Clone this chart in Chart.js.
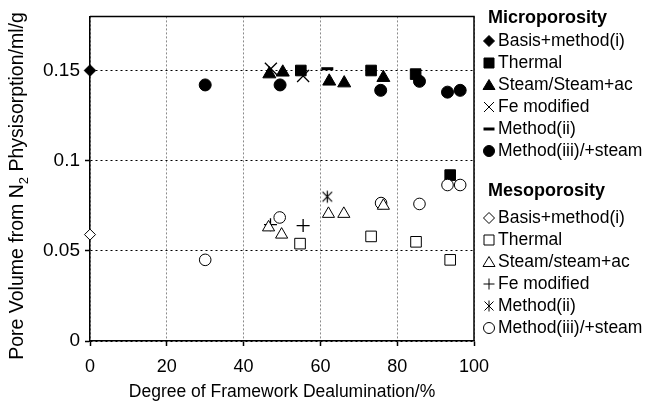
<!DOCTYPE html>
<html>
<head>
<meta charset="utf-8">
<script src="https://cdn.jsdelivr.net/npm/chart.js@4.4.0/dist/chart.umd.min.js"></script>
<style>
  html, body { margin: 0; padding: 0; background: #fff; }
  #wrap { width: 647px; height: 403px; position: relative; }
</style>
</head>
<body>
<div id="wrap"><canvas id="c"></canvas></div>
<script>
// Degree of framework dealumination (%) and pore volume (ml/g) per preparation route

// Microporosity
const microBasisX   = [0];
const microBasisY   = [0.150];
const microThermalX = [54.9, 73.2, 84.8, 93.8];
const microThermalY = [0.150, 0.150, 0.148, 0.092];
const microSteamX   = [46.7, 50.2, 62.3, 66.2, 76.4];
const microSteamY   = [0.148, 0.149, 0.144, 0.143, 0.146];
const microFeX      = [47.1, 55.5];
const microFeY      = [0.151, 0.147];
const microM2X      = [61.8];
const microM2Y      = [0.151];
const microM3X      = [30.0, 49.5, 75.7, 85.8, 93.1, 96.4];
const microM3Y      = [0.142, 0.142, 0.139, 0.144, 0.138, 0.139];

// Mesoporosity
const mesoBasisX    = [0];
const mesoBasisY    = [0.059];
const mesoThermalX  = [54.7, 73.2, 84.9, 93.8];
const mesoThermalY  = [0.054, 0.058, 0.055, 0.045];
const mesoSteamX    = [46.5, 49.9, 62.1, 66.1, 76.4];
const mesoSteamY    = [0.063, 0.059, 0.0705, 0.0705, 0.075];
const mesoFeX       = [47.0, 55.5];
const mesoFeY       = [0.0645, 0.064];
const mesoM2X       = [61.8];
const mesoM2Y       = [0.080];
const mesoM3X       = [30.0, 49.4, 75.8, 85.8, 93.1, 96.4];
const mesoM3Y       = [0.045, 0.0685, 0.0765, 0.076, 0.0865, 0.0865];

// Axis ticks and labels
const xTicks = [0, 20, 40, 60, 80, 100];
const yTicks = [0, 0.05, 0.1, 0.15];
const xTitle = 'Degree of Framework Dealumination/%';
const yTitleParts = ['Pore Volume from N', '2', ' Physisorption/ml/g'];

const microHeader = 'Microporosity';
const mesoHeader  = 'Mesoporosity';
const microLabels = ['Basis+method(i)', 'Thermal', 'Steam/Steam+ac', 'Fe modified', 'Method(ii)', 'Method(iii)/+steam'];
const mesoLabels  = ['Basis+method(i)', 'Thermal', 'Steam/steam+ac', 'Fe modified', 'Method(ii)', 'Method(iii)/+steam'];

const FONT = '"Liberation Sans", Arial, Helvetica, sans-serif';

const pts = (xs, ys) => xs.map((x, i) => ({ x: x, y: ys[i] }));

// six-spoke asterisk used for the mesoporous Method(ii) point
function makeAsterisk(size) {
  const cv = document.createElement('canvas');
  cv.width = size; cv.height = size;
  const g = cv.getContext('2d');
  const c = size / 2, a = size / 2 - 1.5;
  g.strokeStyle = '#000';
  g.lineWidth = 1.2;
  g.beginPath();
  g.moveTo(c - a * 0.8, c - a * 0.8); g.lineTo(c + a * 0.8, c + a * 0.8);
  g.moveTo(c + a * 0.8, c - a * 0.8); g.lineTo(c - a * 0.8, c + a * 0.8);
  g.moveTo(c, c - a); g.lineTo(c, c + a);
  g.stroke();
  return cv;
}
const asterisk = makeAsterisk(15);

function ds(label, xs, ys, style, radius, filled, extra) {
  return Object.assign({
    label: label,
    data: pts(xs, ys),
    pointStyle: style,
    pointRadius: radius,
    pointHoverRadius: radius,
    backgroundColor: filled ? '#000' : '#fff',
    borderColor: '#000',
    borderWidth: 1,
    showLine: false,
    clip: false
  }, extra || {});
}

const datasets = [
  ds('Meso Basis', mesoBasisX, mesoBasisY, 'rectRot', 5.5, false),
  ds('Meso Thermal', mesoThermalX, mesoThermalY, 'rect', 7.5, false),
  ds('Meso Steam', mesoSteamX, mesoSteamY, 'triangle', 7, false),
  ds('Meso Fe', mesoFeX, mesoFeY, 'cross', 6.5, false, { borderWidth: 1.3 }),
  ds('Meso Method(ii)', mesoM2X, mesoM2Y, asterisk, 7, false),
  ds('Meso Method(iii)', mesoM3X, mesoM3Y, 'circle', 5.8, false),
  ds('Micro Basis', microBasisX, microBasisY, 'rectRot', 5.8, true),
  ds('Micro Thermal', microThermalX, microThermalY, 'rect', 7.5, true),
  ds('Micro Steam', microSteamX, microSteamY, 'triangle', 7.5, true),
  ds('Micro Fe', microFeX, microFeY, 'crossRot', 8.5, true, { borderWidth: 1.3 }),
  ds('Micro Method(ii)', microM2X, microM2Y, 'line', 6, true, { borderWidth: 3 }),
  ds('Micro Method(iii)', microM3X, microM3Y, 'circle', 6, true)
];

// legend symbol painter
function drawSym(ctx, type, x, y, filled) {
  ctx.save();
  ctx.strokeStyle = '#000';
  ctx.fillStyle = filled ? '#000' : '#fff';
  ctx.lineWidth = 1;
  ctx.beginPath();
  switch (type) {
    case 'diamond':
      ctx.moveTo(x, y - 5.5); ctx.lineTo(x + 5.5, y); ctx.lineTo(x, y + 5.5); ctx.lineTo(x - 5.5, y); ctx.closePath();
      ctx.fill(); ctx.stroke(); break;
    case 'square':
      ctx.rect(x - 5, y - 5, 10, 10); ctx.fill(); ctx.stroke(); break;
    case 'triangle':
      ctx.moveTo(x, y - 5.5); ctx.lineTo(x + 6, y + 4.5); ctx.lineTo(x - 6, y + 4.5); ctx.closePath();
      ctx.fill(); ctx.stroke(); break;
    case 'x':
      ctx.moveTo(x - 5, y - 5); ctx.lineTo(x + 5, y + 5);
      ctx.moveTo(x + 5, y - 5); ctx.lineTo(x - 5, y + 5); ctx.stroke(); break;
    case 'dash':
      ctx.lineWidth = 3; ctx.moveTo(x - 5.5, y); ctx.lineTo(x + 5.5, y); ctx.stroke(); break;
    case 'circle':
      ctx.arc(x, y, 5.5, 0, Math.PI * 2); ctx.fill(); ctx.stroke(); break;
    case 'plus':
      ctx.moveTo(x - 5.5, y); ctx.lineTo(x + 5.5, y);
      ctx.moveTo(x, y - 5.5); ctx.lineTo(x, y + 5.5); ctx.stroke(); break;
    case 'asterisk':
      ctx.moveTo(x - 4.5, y - 4.5); ctx.lineTo(x + 4.5, y + 4.5);
      ctx.moveTo(x + 4.5, y - 4.5); ctx.lineTo(x - 4.5, y + 4.5);
      ctx.moveTo(x, y - 5.5); ctx.lineTo(x, y + 5.5); ctx.stroke(); break;
  }
  ctx.restore();
}

const microSyms = ['diamond', 'square', 'triangle', 'x', 'dash', 'circle'];
const mesoSyms  = ['diamond', 'square', 'triangle', 'plus', 'asterisk', 'circle'];

const framePlugin = {
  id: 'frame',
  beforeDatasetsDraw(chart) {
    const { ctx, chartArea: a } = chart;
    ctx.save();
    ctx.strokeStyle = '#000';
    ctx.lineWidth = 1.5;
    ctx.beginPath();
    ctx.moveTo(a.left, a.top);
    ctx.lineTo(a.right, a.top);
    ctx.lineTo(a.right, a.bottom);
    ctx.stroke();
    ctx.restore();
  },
  afterDraw(chart) {
    const ctx = chart.ctx;
    ctx.save();
    // rotated y-axis title with subscript
    ctx.translate(18, 186);
    ctx.rotate(-Math.PI / 2);
    ctx.fillStyle = '#000';
    ctx.textBaseline = 'middle';
    const big = '19.5px ' + FONT, small = '13px ' + FONT;
    ctx.font = big; const w0 = ctx.measureText(yTitleParts[0]).width;
    ctx.font = small; const w1 = ctx.measureText(yTitleParts[1]).width;
    ctx.font = big; const w2 = ctx.measureText(yTitleParts[2]).width;
    let x = -(w0 + w1 + w2) / 2;
    ctx.textAlign = 'left';
    ctx.font = big; ctx.fillText(yTitleParts[0], x, 0); x += w0;
    ctx.font = small; ctx.fillText(yTitleParts[1], x, 6); x += w1;
    ctx.font = big; ctx.fillText(yTitleParts[2], x, 0);
    ctx.restore();

    // legend
    ctx.save();
    ctx.fillStyle = '#000';
    ctx.textBaseline = 'middle';
    ctx.textAlign = 'left';
    const hx = 488, sx = 489, tx = 498;
    ctx.font = 'bold 18px ' + FONT;
    ctx.fillText(microHeader, hx, 18);
    ctx.fillText(mesoHeader, hx, 191);
    ctx.font = '17.5px ' + FONT;
    microLabels.forEach((t, i) => {
      const y = 41 + i * 22;
      drawSym(ctx, microSyms[i], sx, y, true);
      ctx.fillText(t, tx, y);
    });
    mesoLabels.forEach((t, i) => {
      const y = 218 + i * 22;
      drawSym(ctx, mesoSyms[i], sx, y, false);
      ctx.fillText(t, tx, y);
    });
    ctx.restore();
  }
};

new Chart(document.getElementById('c'), {
  type: 'scatter',
  data: { datasets: datasets },
  options: {
    responsive: true,
    maintainAspectRatio: false,
    devicePixelRatio: 1,
    animation: false,
    layout: { padding: { top: 11, right: 173, left: 0, bottom: 0 } },
    plugins: { legend: { display: false }, tooltip: { enabled: false } },
    scales: {
      x: {
        type: 'linear',
        min: xTicks[0],
        max: xTicks[xTicks.length - 1],
        afterBuildTicks: s => { s.ticks = xTicks.map(v => ({ value: v })); },
        ticks: { color: '#000', font: { family: FONT, size: 18 }, padding: 10, maxRotation: 0 },
        grid: { color: '#8a8a8a', lineWidth: 1, tickColor: '#000', tickLength: 5, tickBorderDash: [1, 0], tickWidth: 1.5 },
        border: { display: true, color: '#000', width: 1.5, dash: [2, 2] },
        title: { display: true, text: xTitle, color: '#000', font: { family: FONT, size: 17.5 }, padding: { top: 0, bottom: 0 } },
        afterFit: s => { s.height = 62; }
      },
      y: {
        type: 'linear',
        min: 0,
        max: 0.18,
        afterBuildTicks: s => { s.ticks = yTicks.map(v => ({ value: v })); },
        ticks: { color: '#000', font: { family: FONT, size: 19 }, padding: 5, callback: v => String(+Number(v).toFixed(2)) },
        grid: { color: '#000', lineWidth: 1, tickColor: '#000', tickLength: 5, tickBorderDash: [1, 0], tickWidth: 1.5 },
        border: { display: true, color: '#000', width: 1.5, dash: [2, 3] },
        afterFit: s => { s.width = 90; }
      }
    }
  },
  plugins: [framePlugin]
});
</script>
</body>
</html>
